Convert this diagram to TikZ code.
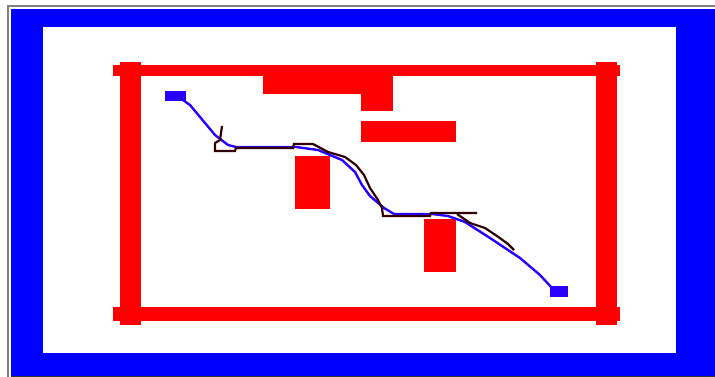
\documentclass[tikz,border=0pt]{standalone}
\usepackage[x11names]{xcolor}
\usepackage{tikz}
\usetikzlibrary{positioning}
\definecolor{wallred}{RGB}{255,0,0}
\definecolor{framblue}{RGB}{0,0,255}
\definecolor{trackblue}{RGB}{40,0,255}
\definecolor{planbrown}{RGB}{51,0,0}
\tikzset{
  obstacle/.style={fill=wallred},
  track/.style={draw=trackblue, line width=2.4pt, line join=round},
  plan/.style={draw=planbrown, line width=2.2pt, line join=miter},
}

\begin{document}
\begin{tikzpicture}[x=1pt,y=-1pt]
    % Fix the page to the screen size
    \useasboundingbox (0,0) rectangle (715,377);

    % Window frame
    \draw[gray, line width=1.5pt] (7.8,377) -- (7.8,6) -- (715,6);
    \fill[framblue] (11,9) rectangle (715,376);
    \fill[white] (43,27) rectangle (676,353);
    \draw[black!80, line width=0.8pt] (11,376.6) -- (715,376.6);

    % Outer walls
    \fill[obstacle] (113,65) rectangle (620,76);
    \fill[obstacle] (113,307) rectangle (620,321);
    \fill[obstacle] (120,62) rectangle (141,325);
    \fill[obstacle] (596,62) rectangle (617,325);

    % Inner obstacles
    \fill[obstacle] (263,76) rectangle (393,94);
    \fill[obstacle] (361,94) rectangle (393,111);
    \fill[obstacle] (361,121) rectangle (456,142);
    \fill[obstacle] (295,156) rectangle (330,209);
    \fill[obstacle] (424,219) rectangle (456,272);

    % Start and goal
    \coordinate (S) at (176,95);
    \coordinate (G) at (559,291);
    \fill[trackblue] (165,91) rectangle (186,101);
    \fill[trackblue] (550,286) rectangle (568,297);

    % Driven track
    \draw[track] (S) -- (190,105) -- (215,135) -- (228,145) -- (236,147)
      -- (296,147) -- (318,150) -- (342,160) -- (355,172) -- (362,185)
      -- (370,196) -- (384,208) -- (394,214) -- (432,214) -- (448,216)
      -- (465,222) -- (490,238) -- (520,258) -- (540,275) -- (552,288);

    % Planned path
    \draw[plan] (222,126) -- (220,140) -- (215,143) -- (215,151) -- (235,151)
      -- (236,148) -- (293,148) -- (294,144) -- (313,144) -- (328,152)
      -- (345,157) -- (356,165) -- (364,175) -- (370,188) -- (378,200)
      -- (382,208) -- (383,216) -- (430,216) -- (431,213) -- (477,213);
    \draw[plan] (457,214) -- (470,223) -- (485,228) -- (497,236) -- (508,244)
      -- (514,250);
  \end{tikzpicture}
\end{document}
